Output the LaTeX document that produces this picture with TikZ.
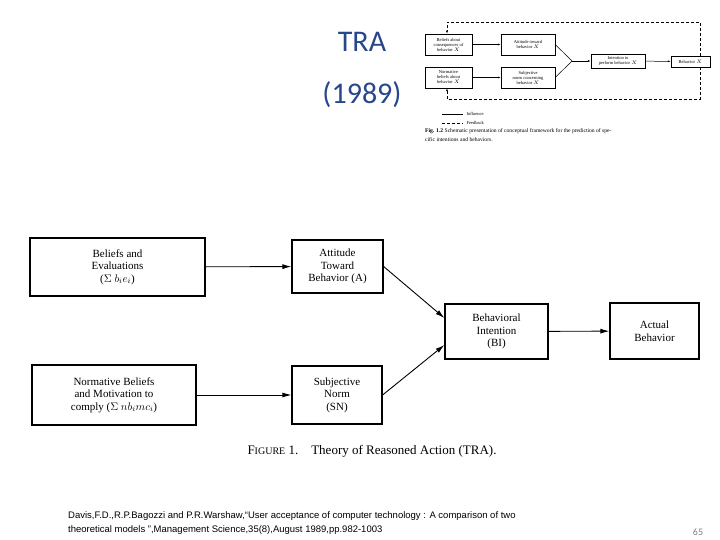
\documentclass[tikz,border=0pt]{standalone}
\usepackage{fontspec}
\setmainfont{Liberation Serif}
\newfontfamily\titlefont{Carlito}
\newfontfamily\reffont{Liberation Sans}
\usetikzlibrary{positioning,arrows.meta}
\definecolor{titleblue}{RGB}{40,70,140}
\tikzset{
  bigbox/.style={draw, line width=1.2pt, align=center, font=\fontsize{11}{12.5}\selectfont},
  smallbox/.style={draw, line width=0.5pt, align=center, inner sep=0.5pt, font=\fontsize{4.5}{5}\selectfont},
  flow/.style={-{Latex[length=9pt,width=5pt]}, line width=0.9pt},
  smallflow/.style={-{Latex[length=3pt,width=2pt]}, line width=0.5pt}
}
\begin{document}
\begin{tikzpicture}[x=1pt,y=-1pt]
  \useasboundingbox (0,0) rectangle (720,540);

  %% title
  \node[text=titleblue, font=\titlefont\fontsize{30}{52}\selectfont, align=center]
    (title) at (362,70) {TRA\\(1989)};

  %% small schematic (top right)
  \node[smallbox, minimum width=47, minimum height=21] (sbel) at (448.5,44.5)
    {Beliefs about\\consequences of\\behavior $X$};
  \node[smallbox, minimum width=54, minimum height=21] (satt) at (528,44.5)
    {Attitude toward\\behavior $X$};
  \node[smallbox, minimum width=47, minimum height=21] (snor) at (448.5,77.5)
    {Normative\\beliefs about\\behavior $X$};
  \node[smallbox, minimum width=54, minimum height=21] (ssub) at (528,77.5)
    {Subjective\\norm concerning\\behavior $X$};
  \node[smallbox, minimum width=54, minimum height=14] (sint) at (618,61)
    {Intention to\\perform behavior $X$};
  \node[smallbox, minimum width=39, minimum height=11] (sbeh) at (690.5,61.5)
    {Behavior $X$};
  \coordinate (smerge) at (572,61);

  \draw[smallflow] (sbel) -- (satt);
  \draw[smallflow] (snor) -- (ssub);
  \draw[line width=0.5pt] (satt.east) -- (smerge) -- (ssub.east);
  \draw[smallflow] (smerge) -- (sint);
  \draw[smallflow] (sint) -- (sbeh);
  \draw[smallflow, densely dashed] (sbeh.north -| 700,0) -- (700,22) -- (447,22) -- (sbel.north -| 447,0);
  \draw[smallflow, densely dashed] (sbeh.south -| 700,0) -- (700,99) -- (447,99) -- (snor.south -| 447,0);

  %% legend
  \coordinate (linf) at (442,114);
  \coordinate (lfee) at (442,123);
  \draw[line width=0.5pt] (linf) -- ++(21,0) node[anchor=west, font=\fontsize{4.5}{5}\selectfont]{Influence};
  \draw[line width=0.5pt, densely dashed] (lfee) -- ++(21,0) node[anchor=west, font=\fontsize{4.5}{5}\selectfont]{Feedback};
  \node[anchor=north west, align=left, inner sep=0, font=\fontsize{5.6}{9.5}\selectfont] (scap) at (425,128)
    {\textbf{Fig. 1.2} Schematic presentation of conceptual framework for the prediction of spe-\\cific intentions and behaviors.};

  %% main figure
  \node[bigbox, minimum width=175, minimum height=58] (bel) at (117.5,267)
    {Beliefs and\\Evaluations\\($\Sigma\ b_ie_i$)};
  \node[bigbox, minimum width=91, minimum height=53] (att) at (337.5,266.5)
    {Attitude\\Toward\\Behavior (A)};
  \node[bigbox, minimum width=164, minimum height=60] (nor) at (114,395)
    {Normative Beliefs\\and Motivation to\\comply ($\Sigma\ nb_i mc_i$)};
  \node[bigbox, minimum width=90, minimum height=58] (sub) at (337,395)
    {Subjective\\Norm\\(SN)};
  \node[bigbox, minimum width=103, minimum height=55] (bi) at (496.5,331.5)
    {Behavioral\\Intention\\(BI)};
  \node[bigbox, minimum width=89, minimum height=56] (act) at (654.5,331)
    {Actual\\Behavior};

  \draw[flow] (bel) -- (att);
  \draw[flow] (nor) -- (sub);
  \draw[flow] (att.east) -- (bi.west |- 0,318);
  \draw[flow] (sub.east) -- (bi.west |- 0,345);
  \draw[flow] (bi) -- (act);

  \node[font=\fontsize{13}{15}\selectfont] (cap) at (372,451)
    {F{\fontsize{10}{12}\selectfont IGURE} 1.\quad Theory of Reasoned Action (TRA).};

  %% reference and page number
  \node[anchor=north west, align=left, inner sep=0, font=\reffont\fontsize{9.5}{14}\selectfont] (ref) at (68,511.5)
    {Davis,F.D.,R.P.Bagozzi and P.R.Warshaw,“User acceptance of computer technology : A comparison of two\\theoretical models ”,Management Science,35(8),August 1989,pp.982-1003};
  \node[text=gray, font=\titlefont\fontsize{10}{12}\selectfont] (pg) at (698,532) {65};
\end{tikzpicture}
\end{document}
